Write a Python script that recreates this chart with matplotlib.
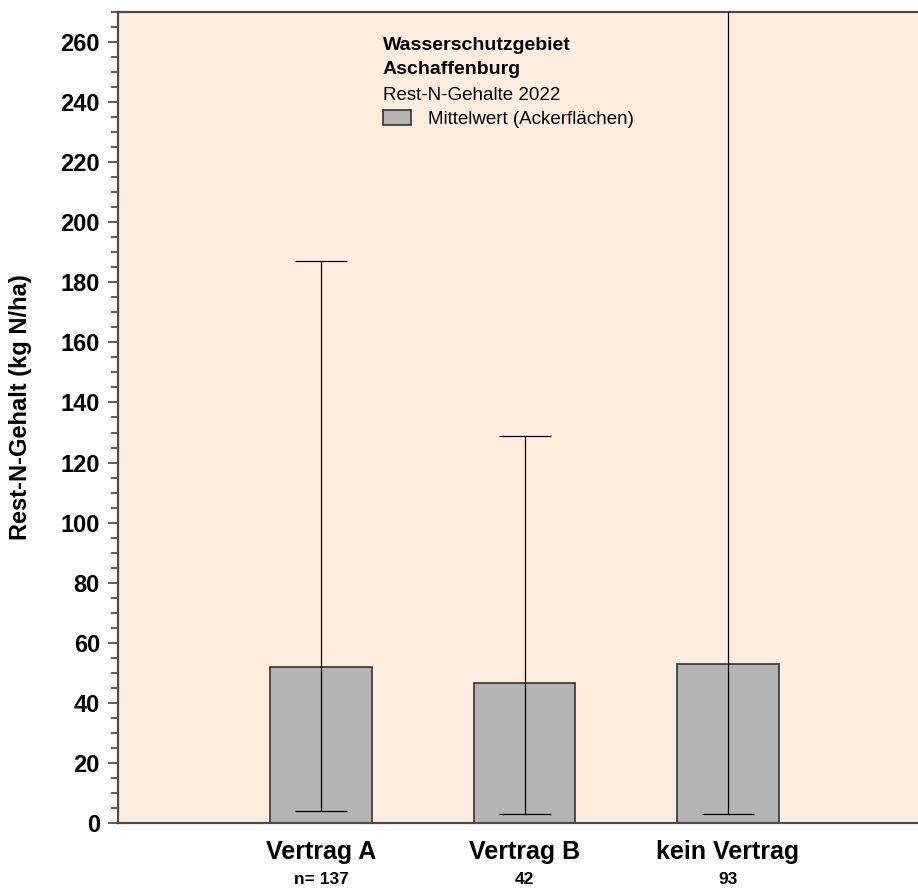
import matplotlib
matplotlib.use('Agg')
import matplotlib.pyplot as plt
from matplotlib.patches import Patch
from matplotlib.ticker import MultipleLocator

plt.rcParams['font.family'] = ['Liberation Sans', 'DejaVu Sans']

# Data
categories = ['Vertrag A', 'Vertrag B', 'kein Vertrag']
n_labels = ['n= 137', '42', '93']
means = [52, 46.5, 53]
mins = [4, 3, 3]
maxs = [187, 129, 290]

positions = [1, 2, 3]
err_low = [m - lo for m, lo in zip(means, mins)]
err_high = [hi - m for m, hi in zip(means, maxs)]

fig = plt.figure(figsize=(9.18, 8.88), dpi=100)
ax = fig.add_axes([118 / 918, 65 / 888, 800 / 918, 811 / 888])
ax.set_facecolor('#FFEEDF')

ax.bar(positions, means, width=0.5, color='#B4B4B4', edgecolor='#333333', linewidth=1.2, zorder=2)
ax.errorbar(positions, means, yerr=[err_low, err_high], fmt='none', ecolor='black',
            elinewidth=0.9, capsize=18.4, capthick=0.9, zorder=3)

ax.set_xlim(0, 3.935)
ax.set_ylim(0, 270)
ax.yaxis.set_major_locator(MultipleLocator(20))
ax.yaxis.set_minor_locator(MultipleLocator(5))
ax.tick_params(axis='y', which='major', length=7, width=1.2, color='#444444', pad=6,
               labelsize=17)
ax.tick_params(axis='y', which='minor', length=5, width=1.2, color='#444444')
for lab in ax.get_yticklabels():
    lab.set_fontweight('bold')

ax.set_xticks(positions)
ax.set_xticklabels(categories, fontsize=18, fontweight='bold')
ax.tick_params(axis='x', length=0, pad=12)

for p, n in zip(positions, n_labels):
    ax.annotate(n, xy=(p, 0), xycoords=('data', 'axes fraction'), xytext=(0, -41),
                textcoords='offset points', ha='center', va='center',
                fontsize=12.5, fontweight='bold')

ax.set_ylabel('Rest-N-Gehalt (kg N/ha)', fontsize=17, fontweight='bold')
ax.yaxis.set_label_coords(-0.1075, 0.513)

for side in ['left', 'bottom', 'top']:
    ax.spines[side].set_color('#4D4A48')
    ax.spines[side].set_linewidth(1.6)
ax.spines['right'].set_visible(False)

# Legend block
fig.text(383 / 918, 1 - 45 / 888, 'Wasserschutzgebiet', fontsize=14, fontweight='bold',
         va='center', ha='left')
fig.text(383 / 918, 1 - 70 / 888, 'Aschaffenburg', fontsize=14, fontweight='bold',
         va='center', ha='left')
fig.text(383 / 918, 1 - 95 / 888, 'Rest-N-Gehalte 2022', fontsize=13.5,
         va='center', ha='left')
handle = Patch(facecolor='#B4B4B4', edgecolor='#333333', linewidth=1.2,
               label='Mittelwert (Ackerflächen)')
ax.legend(handles=[handle], loc='upper left', bbox_to_anchor=(383 / 918, 1 - 110 / 888),
          bbox_transform=fig.transFigure, frameon=False, fontsize=13.5,
          borderpad=0, borderaxespad=0, handlelength=1.5, handleheight=0.85,
          handletextpad=0.9)

fig.savefig('out.png', dpi=100)
